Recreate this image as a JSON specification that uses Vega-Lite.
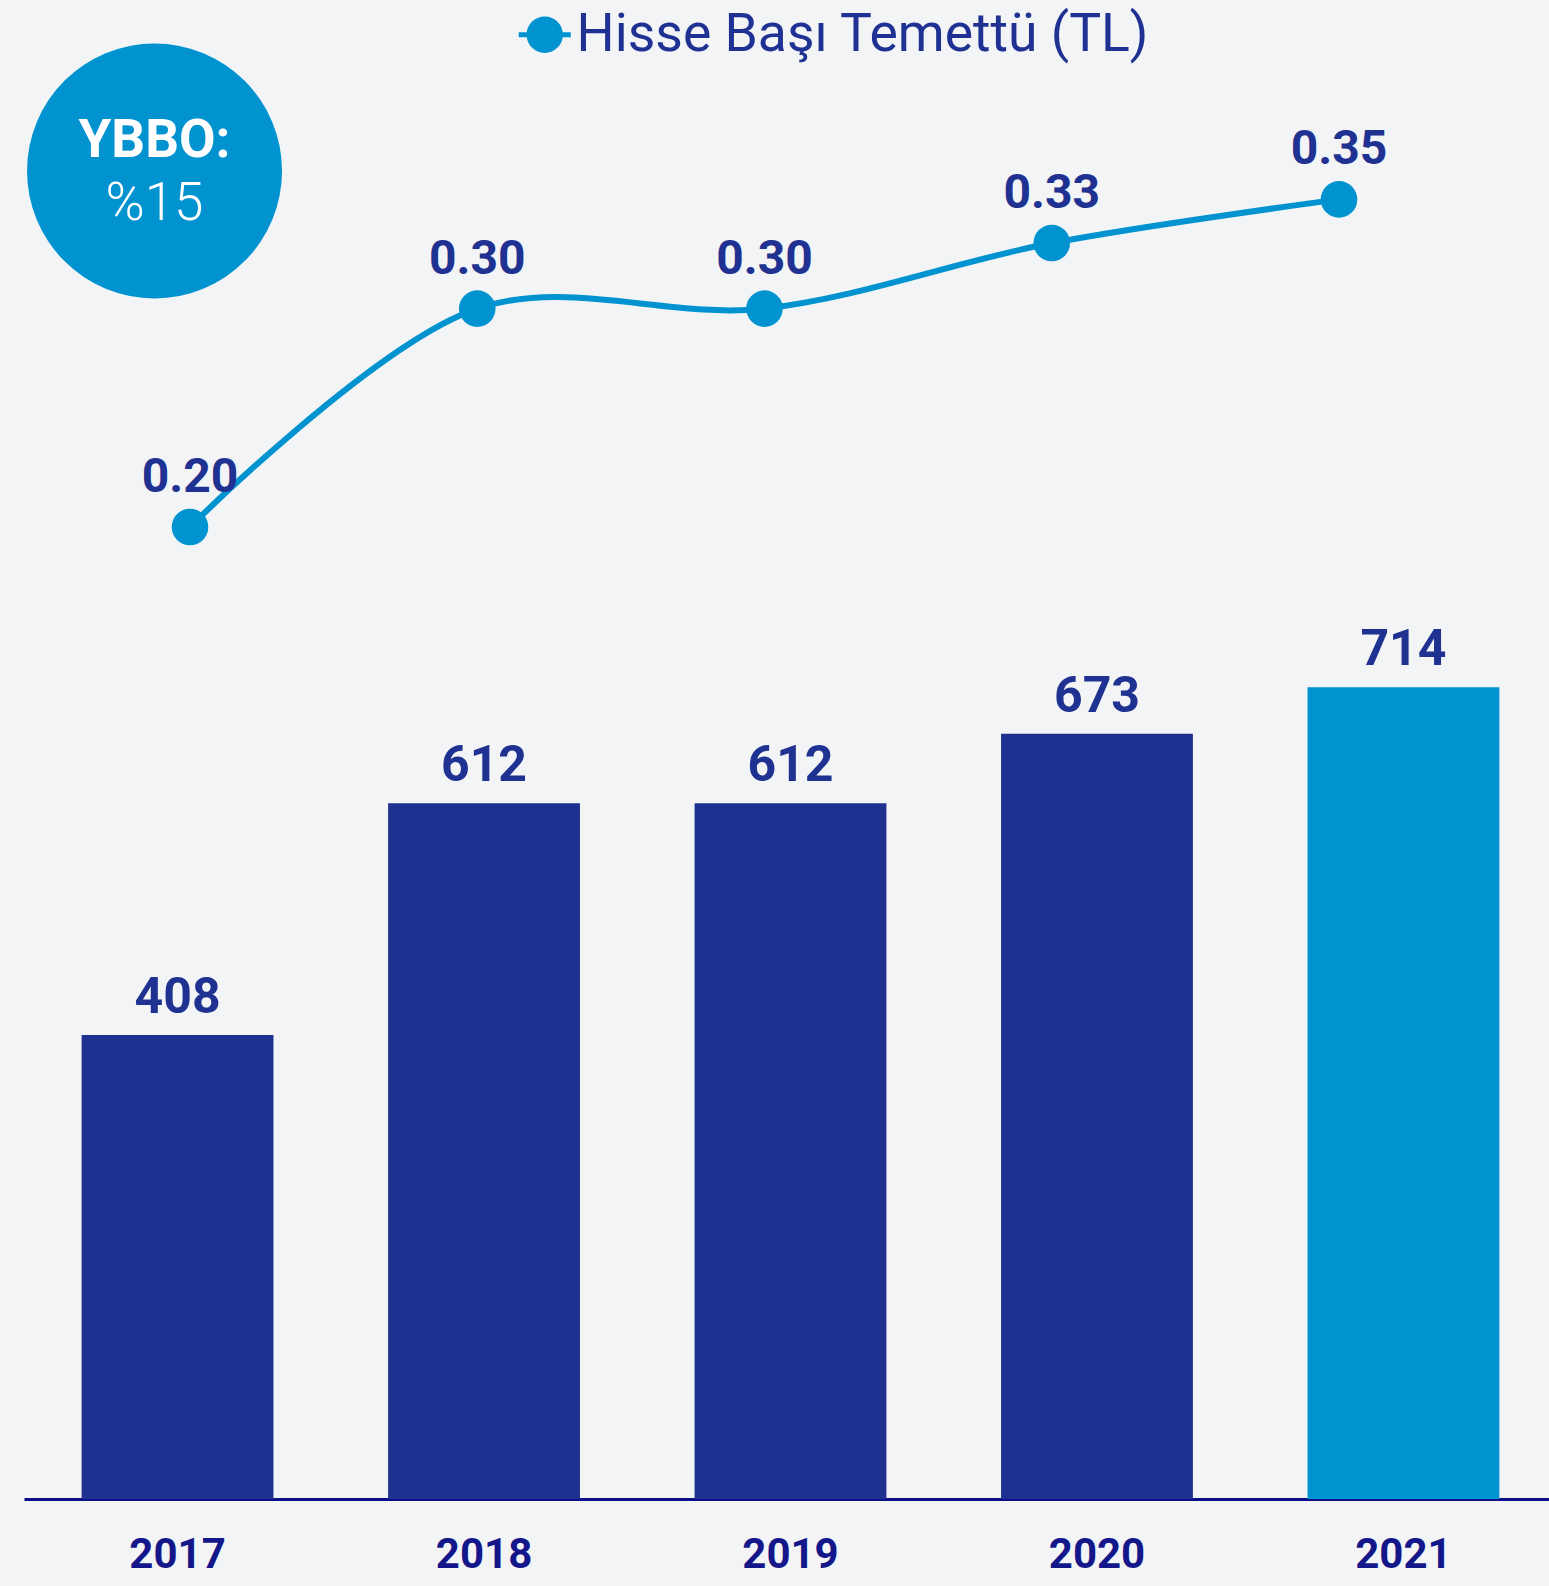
{
  "$schema": "https://vega.github.io/schema/vega-lite/v6.json",
  "width": 1525,
  "height": 1399,
  "autosize": {"type": "none"},
  "padding": {"left": 24, "top": 100, "right": 0, "bottom": 87},
  "background": "#f3f4f6",
  "config": {"view": {"stroke": null}, "font": "Roboto"},
  "datasets": {
    "bars": [
      {"year": "2017", "value": 408},
      {"year": "2018", "value": 612},
      {"year": "2019", "value": 612},
      {"year": "2020", "value": 673},
      {"year": "2021", "value": 714}
    ],
    "dividend": [
      {"year": "2017", "dps": 0.20, "series": "Hisse Başı Temettü (TL)"},
      {"year": "2018", "dps": 0.30, "series": "Hisse Başı Temettü (TL)"},
      {"year": "2019", "dps": 0.30, "series": "Hisse Başı Temettü (TL)"},
      {"year": "2020", "dps": 0.33, "series": "Hisse Başı Temettü (TL)"},
      {"year": "2021", "dps": 0.35, "series": "Hisse Başı Temettü (TL)"}
    ],
    "badge": [
      {"year": "2017", "title": "YBBO:", "rate": "%15"}
    ]
  },
  "layer": [
    {
      "layer": [
        {
          "data": {"name": "bars"},
          "mark": {"type": "bar"},
          "encoding": {
            "x": {"field": "year", "type": "nominal", "sort": null,
              "scale": {"range": [0, 1533], "paddingInner": 0.374, "paddingOuter": 0.188},
              "axis": {"title": null, "ticks": false, "labelAngle": 0, "labelFont": "Roboto", "labelFontSize": 42, "labelFontWeight": "bold", "labelColor": "#14178a", "labelPadding": 35, "domainColor": "#0b1088", "domainWidth": 3, "grid": false}},
            "y": {"field": "value", "type": "quantitative", "scale": {"domain": [0, 1230.4], "nice": false, "zero": true}, "axis": null},
            "color": {"condition": {"test": "datum.year == '2021'", "value": "#0093d0"}, "value": "#1f3190"}
          }
        },
        {
          "data": {"name": "bars"},
          "mark": {"type": "text", "baseline": "alphabetic", "dy": -22, "fontSize": 50, "fontWeight": "bold", "color": "#1f3292", "font": "Roboto"},
          "encoding": {
            "x": {"field": "year", "type": "nominal", "sort": null},
            "y": {"field": "value", "type": "quantitative"},
            "text": {"field": "value", "type": "quantitative"}
          }
        },
        {
          "data": {"name": "badge"},
          "mark": {"type": "point", "filled": true, "size": 65025, "color": "#0093d0", "opacity": 1, "strokeWidth": 0},
          "encoding": {
            "x": {"field": "year", "type": "nominal", "sort": null, "bandPosition": 0.38},
            "y": {"datum": 1168, "type": "quantitative"}
          }
        },
        {
          "data": {"name": "badge"},
          "mark": {"type": "text", "baseline": "middle", "dy": -30, "fontSize": 53, "fontWeight": "bold", "color": "#ffffff", "font": "Roboto"},
          "encoding": {
            "x": {"field": "year", "type": "nominal", "sort": null, "bandPosition": 0.38},
            "y": {"datum": 1168, "type": "quantitative"},
            "text": {"field": "title"}
          }
        },
        {
          "data": {"name": "badge"},
          "mark": {"type": "text", "baseline": "middle", "dy": 33, "fontSize": 53, "fontWeight": 300, "color": "#ffffff", "font": "Roboto"},
          "encoding": {
            "x": {"field": "year", "type": "nominal", "sort": null, "bandPosition": 0.38},
            "y": {"datum": 1168, "type": "quantitative"},
            "text": {"field": "rate"}
          }
        }
      ]
    },
    {
      "data": {"name": "dividend"},
      "layer": [
        {
          "mark": {"type": "line", "interpolate": "catmull-rom", "strokeWidth": 6},
          "encoding": {
            "x": {"field": "year", "type": "ordinal", "sort": null, "scale": {"type": "point", "range": [166, 1315], "padding": 0}, "axis": null},
            "y": {"field": "dps", "type": "quantitative", "scale": {"domain": [-0.245, 0.3955], "nice": false, "zero": false}, "axis": null},
            "color": {"field": "series", "type": "nominal",
              "scale": {"range": ["#0093d0"]},
              "legend": {"title": null, "orient": "none", "legendX": 494, "legendY": -92, "padding": 0,
                "symbolType": "M -0.7,0 A 0.7,0.7 0 1,1 0.7,0 A 0.7,0.7 0 1,1 -0.7,0 Z M -1,-0.1 L 1,-0.1 L 1,0.1 L -1,0.1 Z",
                "symbolSize": 2704, "symbolFillColor": "#0093d0", "symbolStrokeWidth": 0, "symbolStrokeColor": "#0093d0",
                "labelFont": "Roboto", "labelFontSize": 53.5, "labelColor": "#1f3192", "labelOffset": 5, "labelLimit": 1000,
                "encode": {"symbols": {"update": {"fill": {"value": "#0093d0"}, "strokeWidth": {"value": 0}, "opacity": {"value": 1}}}}}
            }
          }
        },
        {
          "mark": {"type": "point", "filled": true, "size": 1340, "opacity": 1, "strokeWidth": 0},
          "encoding": {
            "x": {"field": "year", "type": "ordinal", "sort": null},
            "y": {"field": "dps", "type": "quantitative"},
            "color": {"field": "series", "type": "nominal"}
          }
        },
        {
          "mark": {"type": "text", "baseline": "alphabetic", "dy": -35, "fontSize": 48, "fontWeight": "bold", "color": "#1f3292", "font": "Roboto"},
          "encoding": {
            "x": {"field": "year", "type": "ordinal", "sort": null},
            "y": {"field": "dps", "type": "quantitative"},
            "text": {"field": "dps", "type": "quantitative", "format": ".2f"}
          }
        }
      ]
    }
  ],
  "resolve": {"scale": {"x": "independent", "y": "independent", "color": "independent"}}
}
